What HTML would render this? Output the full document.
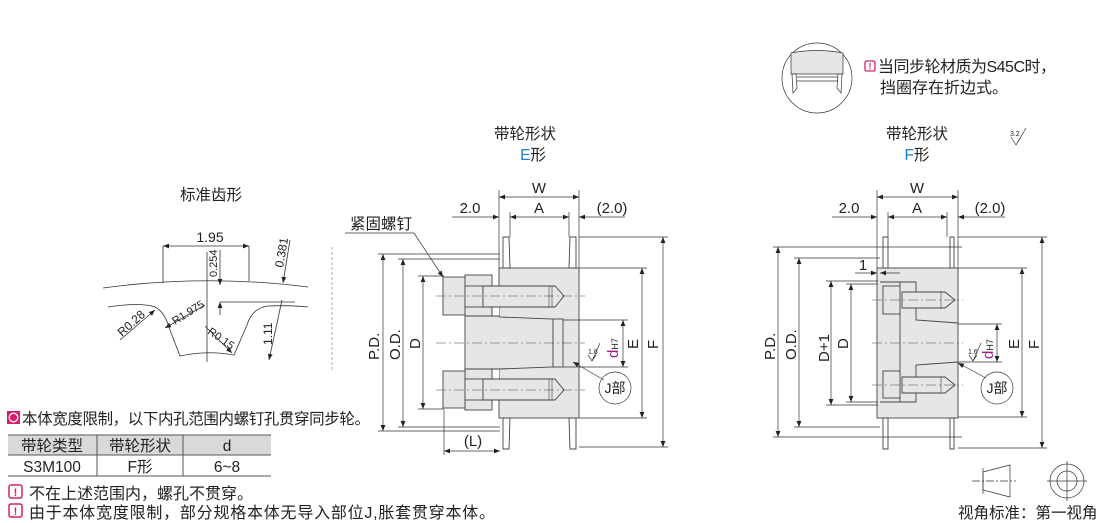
<!DOCTYPE html>
<html><head><meta charset="utf-8"><style>
html,body{margin:0;padding:0;background:#fff}
svg{display:block}
text{font-family:"Liberation Sans","Noto Sans CJK SC",sans-serif;fill:#222}
</style></head><body>
<svg width="1110" height="523" viewBox="0 0 1110 523" xmlns="http://www.w3.org/2000/svg">
<defs>
<marker id="a" viewBox="0 0 10 10" refX="10" refY="5" markerWidth="8" markerHeight="6" orient="auto-start-reverse" markerUnits="userSpaceOnUse"><path d="M0,1L10,5L0,9z" fill="#222"/></marker>
</defs>
<g stroke="#333" stroke-width="0.8" fill="none">
<path d="M103,288 Q205,274 308,287"/>
<path d="M108,307 Q140,302 155,307 Q165,312 170,330 L180,356 Q207,350 234,355 L247,325 Q252,308 268,306 Q290,305 308,307"/>
<line x1="163" y1="246" x2="163" y2="283"/><line x1="249" y1="246" x2="249" y2="281"/>
<line x1="163" y1="246" x2="249" y2="246" marker-start="url(#a)" marker-end="url(#a)"/>
<line x1="207" y1="252" x2="207" y2="362"/>
<line x1="220" y1="250" x2="220" y2="285" marker-end="url(#a)"/>
<line x1="220" y1="315" x2="220" y2="302" marker-end="url(#a)"/>
<line x1="220" y1="302" x2="295" y2="302"/>
<line x1="290" y1="240" x2="283" y2="283" marker-end="url(#a)"/>
<line x1="269" y1="360" x2="282" y2="300" marker-start="url(#a)"/>
<line x1="120" y1="340" x2="155" y2="310" marker-end="url(#a)"/>
<line x1="165" y1="328" x2="205" y2="305" marker-start="url(#a)"/>
<line x1="205" y1="326" x2="232" y2="353" marker-end="url(#a)"/>
<line x1="332" y1="247" x2="332" y2="370" stroke-dasharray="3,2" stroke="#999"/>
</g>
<g font-size="13">
<text x="211" y="200" text-anchor="middle" font-size="15.5">标准齿形</text>
<text x="210" y="242" text-anchor="middle" font-size="14">1.95</text>
<text transform="translate(217,277) rotate(-90)" font-size="11">0.254</text>
<text transform="translate(283,268) rotate(-80)" font-size="12">0.381</text>
<text transform="translate(122,337) rotate(-42)" font-size="12">R0.28</text>
<text transform="translate(175,325) rotate(-32)" font-size="11">R1.975</text>
<text transform="translate(207,333) rotate(35)" font-size="11">R0.15</text>
<text transform="translate(272,345) rotate(-90)" font-size="12">1.11</text>
</g>

<!-- ===== E shape ===== -->
<g stroke="#444" stroke-width="0.9">
<rect x="499" y="268" width="80" height="150" fill="#e6e6e8"/>
<path d="M503,237 L509,237 L510,268 L503,268z M570,237 L576,237 L576,268 L569,268z M503,418 L510,418 L509,449 L503,449z M569,418 L576,418 L576,449 L570,449z" fill="#fff"/>
<rect x="465" y="275" width="27" height="41" fill="#e6e6e8"/>
<rect x="465" y="369" width="27" height="41" fill="#e6e6e8"/>
<rect x="492" y="307" width="7" height="9" fill="#fff" stroke="none"/>
<rect x="492" y="369" width="7" height="10" fill="#fff" stroke="none"/>
<path d="M465,316 L499,316 L499,317 L553,319 L553,367 L499,369 L465,369z" fill="#e6e6e8"/>
<path d="M492,307 L492,316 M492,369 L492,379"/>
<rect x="553" y="319" width="10" height="48" fill="#e6e6e8"/>
<rect x="443" y="277" width="22" height="38" fill="#e6e6e8"/>
<rect x="443" y="371" width="22" height="37" fill="#e6e6e8"/>
<rect x="465" y="286" width="18" height="21" fill="#e6e6e8"/>
<rect x="465" y="379" width="18" height="21" fill="#e6e6e8"/>
<path d="M483,286 L555,286 L564,296 L555,307 L483,307z" fill="#e6e6e8"/>
<path d="M483,379 L555,379 L564,390 L555,400 L483,400z" fill="#e6e6e8"/>
<path d="M549,286 V307 M552,286 V307 M549,379 V400 M552,379 V400" stroke-width="0.6"/>
</g>
<g stroke="#444" stroke-width="0.6" stroke-dasharray="10,3,2,3" fill="none">
<line x1="436" y1="296" x2="585" y2="296"/><line x1="436" y1="343" x2="585" y2="343"/><line x1="436" y1="390" x2="585" y2="390"/>
</g>
<g stroke="#333" stroke-width="0.7" fill="none">
<line x1="499" y1="190" x2="499" y2="268"/><line x1="579" y1="190" x2="579" y2="268"/>
<line x1="510" y1="212" x2="510" y2="237"/><line x1="569" y1="212" x2="569" y2="237"/>
<line x1="499" y1="197" x2="579" y2="197" marker-start="url(#a)" marker-end="url(#a)"/>
<line x1="510" y1="217" x2="569" y2="217" marker-start="url(#a)" marker-end="url(#a)"/>
<line x1="452" y1="217" x2="499" y2="217" marker-end="url(#a)"/>
<line x1="625" y1="217" x2="579" y2="217" marker-end="url(#a)"/>
<line x1="378" y1="254" x2="500" y2="254"/><line x1="378" y1="431" x2="500" y2="431"/>
<line x1="398" y1="259" x2="500" y2="259"/><line x1="398" y1="427" x2="500" y2="427"/>
<line x1="418" y1="276" x2="444" y2="276"/><line x1="418" y1="409" x2="444" y2="409"/>
<line x1="383" y1="254" x2="383" y2="431" marker-start="url(#a)" marker-end="url(#a)"/>
<line x1="403" y1="259" x2="403" y2="427" marker-start="url(#a)" marker-end="url(#a)"/>
<line x1="423" y1="276" x2="423" y2="409" marker-start="url(#a)" marker-end="url(#a)"/>
<line x1="579" y1="237" x2="668" y2="237"/><line x1="579" y1="447" x2="668" y2="447"/>
<line x1="579" y1="268" x2="647" y2="268"/><line x1="579" y1="418" x2="647" y2="418"/>
<line x1="563" y1="320" x2="628" y2="320"/><line x1="563" y1="367" x2="628" y2="367"/>
<line x1="663" y1="237" x2="663" y2="447" marker-start="url(#a)" marker-end="url(#a)"/>
<line x1="642" y1="268" x2="642" y2="418" marker-start="url(#a)" marker-end="url(#a)"/>
<line x1="623" y1="320" x2="623" y2="367" marker-start="url(#a)" marker-end="url(#a)"/>
<line x1="444" y1="410" x2="444" y2="455"/>
<line x1="444" y1="451" x2="500" y2="451" marker-start="url(#a)" marker-end="url(#a)"/>
<line x1="345" y1="233" x2="414" y2="233"/>
<line x1="414" y1="233" x2="443" y2="277" marker-end="url(#a)"/>
<line x1="604" y1="380" x2="573" y2="362" marker-end="url(#a)"/>
<circle cx="615" cy="388" r="16"/>
<path d="M588,355 L592,361 L596,355 M592,361 L600,343" />
</g>
<g font-size="15">
<text x="525" y="139" text-anchor="middle" font-size="15.5">带轮形状</text>
<text x="533" y="160" text-anchor="middle" font-size="15.5"><tspan style="fill:#1a7fc8">E</tspan>形</text>
<text x="539" y="193" text-anchor="middle">W</text>
<text x="539" y="213" text-anchor="middle">A</text>
<text x="470" y="213" text-anchor="middle">2.0</text>
<text x="612" y="213" text-anchor="middle">(2.0)</text>
<text x="381" y="229" text-anchor="middle" font-size="15.5">紧固螺钉</text>
<text x="473" y="446" text-anchor="middle">(L)</text>
<text transform="translate(379,360) rotate(-90)">P.D.</text>
<text transform="translate(400,360) rotate(-90)">O.D.</text>
<text transform="translate(420,349) rotate(-90)">D</text>
<text transform="translate(638,349) rotate(-90)">E</text>
<text transform="translate(658,349) rotate(-90)">F</text>
<text transform="translate(618,358) rotate(-90)" style="fill:#a0208a">d<tspan font-size="9" style="fill:#222">H7</tspan></text>
<text x="615" y="393" text-anchor="middle" font-size="14">J部</text>
<text x="588" y="354" font-size="7">1.6</text>
</g>

<!-- ===== F shape ===== -->
<g stroke="#444" stroke-width="0.9">
<rect x="877" y="268" width="81" height="150" fill="#e6e6e8"/>
<path d="M883,237 L888,237 L888,268 L883,268z M950,237 L954,237 L954,268 L950,268z M883,418 L888,418 L888,449 L883,449z M950,418 L954,418 L954,449 L950,449z" fill="#fff"/>
<path d="M880,282 L916,282 L916,320 L958,323 M958,362 L916,365 L916,402 L880,402" fill="none"/>
<line x1="900" y1="282" x2="900" y2="402"/>
<rect x="883" y="286" width="17" height="28" fill="#e6e6e8"/>
<rect x="883" y="371" width="17" height="27" fill="#e6e6e8"/>
<path d="M902,292 L945,292 L955,300 L945,308 L902,308z" fill="#e6e6e8"/>
<path d="M902,377 L945,377 L955,385 L945,393 L902,393z" fill="#e6e6e8"/>
<path d="M941,292 V308 M941,377 V393" stroke-width="0.6"/>
</g>
<g stroke="#444" stroke-width="0.6" stroke-dasharray="10,3,2,3" fill="none">
<line x1="872" y1="300" x2="963" y2="300"/><line x1="872" y1="343" x2="963" y2="343"/><line x1="872" y1="385" x2="963" y2="385"/>
</g>
<g stroke="#333" stroke-width="0.7" fill="none">
<line x1="877" y1="190" x2="877" y2="268"/><line x1="958" y1="190" x2="958" y2="268"/>
<line x1="888" y1="212" x2="888" y2="237"/><line x1="947" y1="212" x2="947" y2="237"/>
<line x1="877" y1="197" x2="958" y2="197" marker-start="url(#a)" marker-end="url(#a)"/>
<line x1="888" y1="217" x2="947" y2="217" marker-start="url(#a)" marker-end="url(#a)"/>
<line x1="832" y1="217" x2="877" y2="217" marker-end="url(#a)"/>
<line x1="1005" y1="217" x2="958" y2="217" marker-end="url(#a)"/>
<line x1="773" y1="247" x2="962" y2="247"/><line x1="773" y1="437" x2="962" y2="437"/>
<line x1="794" y1="258" x2="880" y2="258"/><line x1="794" y1="427" x2="880" y2="427"/>
<line x1="826" y1="281" x2="878" y2="281"/><line x1="826" y1="405" x2="878" y2="405"/>
<line x1="846" y1="284" x2="878" y2="284"/><line x1="846" y1="402" x2="878" y2="402"/>
<line x1="778" y1="247" x2="778" y2="437" marker-start="url(#a)" marker-end="url(#a)"/>
<line x1="799" y1="258" x2="799" y2="427" marker-start="url(#a)" marker-end="url(#a)"/>
<line x1="831" y1="281" x2="831" y2="405" marker-start="url(#a)" marker-end="url(#a)"/>
<line x1="851" y1="284" x2="851" y2="402" marker-start="url(#a)" marker-end="url(#a)"/>
<line x1="855" y1="273" x2="877" y2="273" marker-end="url(#a)"/>
<line x1="900" y1="273" x2="880" y2="273" marker-end="url(#a)"/>
<line x1="958" y1="237" x2="1047" y2="237"/><line x1="958" y1="448" x2="1047" y2="448"/>
<line x1="958" y1="268" x2="1027" y2="268"/><line x1="958" y1="417" x2="1027" y2="417"/>
<line x1="958" y1="324" x2="1002" y2="324"/><line x1="958" y1="362" x2="1002" y2="362"/>
<line x1="1042" y1="237" x2="1042" y2="448" marker-start="url(#a)" marker-end="url(#a)"/>
<line x1="1022" y1="268" x2="1022" y2="417" marker-start="url(#a)" marker-end="url(#a)"/>
<line x1="997" y1="324" x2="997" y2="362" marker-start="url(#a)" marker-end="url(#a)"/>
<line x1="986" y1="378" x2="958" y2="363" marker-end="url(#a)"/>
<circle cx="997" cy="388" r="16"/>
<path d="M969,355 L973,361 L977,355 M973,361 L981,343"/>
<circle cx="817" cy="78" r="35"/>
<path d="M791,53 Q817,48 843,53 L843,74 L791,74z" fill="#e6e6e8"/>
<path d="M792,74 L796,74 L797,88 L793,93z M838,74 L842,74 L841,93 L837,88z" fill="#fff"/>
<path d="M797,77 H838 M797,81 H838"/>
<path d="M1011,137 L1016,145 L1021,137 M1016,145 L1026,128"/>
<path d="M983,472 L1010,465 L1010,497 L983,490z"/>
<line x1="972" y1="481" x2="1016" y2="481" stroke-dasharray="8,2,2,2"/>
<line x1="983" y1="468" x2="983" y2="494"/>
<circle cx="1067" cy="481" r="17"/><circle cx="1067" cy="481" r="10"/>
<line x1="1047" y1="481" x2="1087" y2="481"/><line x1="1067" y1="461" x2="1067" y2="501"/>
</g>
<g font-size="15">
<text x="917" y="139" text-anchor="middle" font-size="15.5">带轮形状</text>
<text x="917" y="160" text-anchor="middle" font-size="15.5"><tspan style="fill:#1a7fc8">F</tspan>形</text>
<text x="917" y="193" text-anchor="middle">W</text>
<text x="917" y="213" text-anchor="middle">A</text>
<text x="849" y="213" text-anchor="middle">2.0</text>
<text x="990" y="213" text-anchor="middle">(2.0)</text>
<text x="863" y="270" text-anchor="middle">1</text>
<text transform="translate(775,360) rotate(-90)">P.D.</text>
<text transform="translate(796,360) rotate(-90)">O.D.</text>
<text transform="translate(829,362) rotate(-90)">D+1</text>
<text transform="translate(848,349) rotate(-90)">D</text>
<text transform="translate(1019,349) rotate(-90)">E</text>
<text transform="translate(1039,349) rotate(-90)">F</text>
<text transform="translate(993,359) rotate(-90)" style="fill:#a0208a">d<tspan font-size="9" style="fill:#222">H7</tspan></text>
<text x="997" y="393" text-anchor="middle" font-size="14">J部</text>
<text x="968" y="354" font-size="7">1.6</text>
<text x="1010" y="136" font-size="7">3.2</text>
<text x="878" y="72" font-size="16" textLength="178">当同步轮材质为S45C时，</text>
<text x="880" y="93" font-size="16">挡圈存在折边式。</text>
<text x="958" y="518" font-size="15.5">视角标准：第一视角</text>
</g>
<rect x="865" y="61" width="10" height="10" fill="#fff" stroke="#d6206e" stroke-width="1.3" rx="1.5"/>
<text x="870" y="69.5" font-size="9" text-anchor="middle" font-weight="bold" style="fill:#d6206e">!</text>

<rect x="7" y="411" width="13" height="13" fill="#d6206e"/>
<circle cx="13.5" cy="417.5" r="4.3" fill="none" stroke="#fff" stroke-width="1.3"/>
<text x="22" y="424" font-size="15.5" textLength="348">本体宽度限制，以下内孔范围内螺钉孔贯穿同步轮。</text>
<rect x="8" y="435" width="263" height="20" fill="#d9d9d9"/>
<g stroke="#555" stroke-width="1">
<line x1="8" y1="435" x2="271" y2="435"/><line x1="8" y1="455" x2="271" y2="455"/><line x1="8" y1="476" x2="271" y2="476"/>
<line x1="97" y1="435" x2="97" y2="476"/><line x1="183" y1="435" x2="183" y2="476"/>
</g>
<g font-size="15.5">
<text x="52" y="451" text-anchor="middle">带轮类型</text>
<text x="140" y="451" text-anchor="middle">带轮形状</text>
<text x="227" y="451" text-anchor="middle">d</text>
<text x="52" y="472" text-anchor="middle">S3M100</text>
<text x="140" y="472" text-anchor="middle">F形</text>
<text x="227" y="472" text-anchor="middle">6~8</text>
<text x="29" y="499" font-size="16">不在上述范围内，螺孔不贯穿。</text>
<text x="29" y="518" font-size="16" textLength="466">由于本体宽度限制，部分规格本体无导入部位J,胀套贯穿本体。</text>
</g>
<rect x="9" y="485" width="13" height="13" fill="#fff" stroke="#d6206e" stroke-width="1.5" rx="2"/>
<text x="15.5" y="496" font-size="11" text-anchor="middle" style="fill:#d6206e" font-weight="bold">!</text>
<rect x="9" y="504" width="13" height="13" fill="#fff" stroke="#d6206e" stroke-width="1.5" rx="2"/>
<text x="15.5" y="515" font-size="11" text-anchor="middle" style="fill:#d6206e" font-weight="bold">!</text>
</svg>
</body></html>
